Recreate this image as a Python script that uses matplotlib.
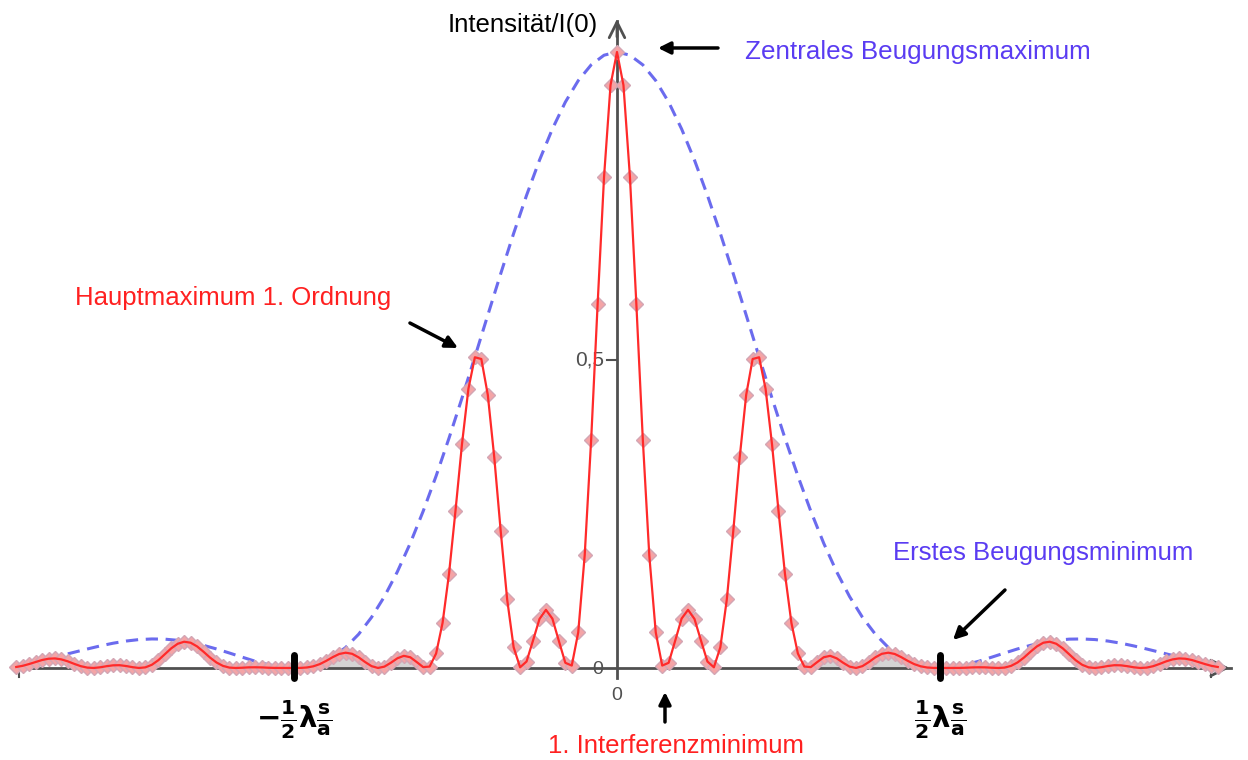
import numpy as np
import matplotlib
matplotlib.use("Agg")
import matplotlib.pyplot as plt

intensity = [
    0.0016, 0.0035, 0.0064, 0.0097, 0.0129, 0.0150, 0.0155, 0.0139, 0.0107, 0.0066,
    0.0029, 0.0006, 0.0000, 0.0011, 0.0029, 0.0043, 0.0045, 0.0032, 0.0013, 0.0000,
    0.0010, 0.0052, 0.0126, 0.0222, 0.0319, 0.0393, 0.0426, 0.0410, 0.0350, 0.0263,
    0.0169, 0.0089, 0.0034, 0.0006, 0.0000, 0.0004, 0.0010, 0.0011, 0.0009, 0.0004,
    0.0001, 0.0000, 0.0000, 0.0000, 0.0001, 0.0008, 0.0027, 0.0063, 0.0116, 0.0176,
    0.0227, 0.0248, 0.0230, 0.0173, 0.0097, 0.0030, 0.0000, 0.0022, 0.0085, 0.0157,
    0.0197, 0.0174, 0.0096, 0.0014, 0.0023, 0.0235, 0.0732, 0.1531, 0.2553, 0.3629,
    0.4533, 0.5044, 0.5016, 0.4434, 0.3422, 0.2221, 0.1112, 0.0336, 0.0011, 0.0105,
    0.0445, 0.0795, 0.0944, 0.0801, 0.0439, 0.0084, 0.0039, 0.0578, 0.1827, 0.3703,
    0.5902, 0.7978, 0.9462,
    1.0000,
    0.9462, 0.7978, 0.5902, 0.3703, 0.1827, 0.0578, 0.0039, 0.0084, 0.0439, 0.0801,
    0.0944, 0.0795, 0.0445, 0.0105, 0.0011, 0.0336, 0.1112, 0.2221, 0.3422, 0.4434,
    0.5016, 0.5044, 0.4533, 0.3629, 0.2553, 0.1531, 0.0732, 0.0235, 0.0023, 0.0014,
    0.0096, 0.0174, 0.0197, 0.0157, 0.0085, 0.0022, 0.0000, 0.0030, 0.0097, 0.0173,
    0.0230, 0.0248, 0.0227, 0.0176, 0.0116, 0.0063, 0.0027, 0.0008, 0.0001, 0.0000,
    0.0000, 0.0000, 0.0001, 0.0004, 0.0009, 0.0011, 0.0010, 0.0004, 0.0000, 0.0006,
    0.0034, 0.0089, 0.0169, 0.0263, 0.0350, 0.0410, 0.0426, 0.0393, 0.0319, 0.0222,
    0.0126, 0.0052, 0.0010, 0.0000, 0.0013, 0.0032, 0.0045, 0.0043, 0.0029, 0.0011,
    0.0000, 0.0006, 0.0029, 0.0066, 0.0107, 0.0139, 0.0155, 0.0150, 0.0129, 0.0097,
    0.0064, 0.0035, 0.0016,
]

# Beugungs-Einhuellende, Abstand 0.04
envelope = [
    0.0153, 0.0203, 0.0256, 0.0308, 0.0358, 0.0402, 0.0437, 0.0461, 0.0471, 0.0468,
    0.0449, 0.0415, 0.0367, 0.0309, 0.0243, 0.0175, 0.0109, 0.0054, 0.0015, 0.0000,
    0.0017, 0.0074, 0.0177, 0.0333, 0.0547, 0.0822, 0.1160, 0.1562, 0.2025, 0.2546,
    0.3117, 0.3732, 0.4380, 0.5050, 0.5728, 0.6401, 0.7054, 0.7673, 0.8243, 0.8751,
    0.9186, 0.9535, 0.9791, 0.9948,
    1.0000,
    0.9948, 0.9791, 0.9535, 0.9186, 0.8751, 0.8243, 0.7673, 0.7054, 0.6401, 0.5728,
    0.5050, 0.4380, 0.3732, 0.3117, 0.2546, 0.2025, 0.1562, 0.1160, 0.0822, 0.0547,
    0.0333, 0.0177, 0.0074, 0.0017, 0.0000, 0.0015, 0.0054, 0.0109, 0.0175, 0.0243,
    0.0309, 0.0367, 0.0415, 0.0449, 0.0468, 0.0471, 0.0461, 0.0437, 0.0402, 0.0358,
    0.0308, 0.0256, 0.0203, 0.0153,
]

x = np.linspace(-1.86, 1.86, len(intensity))
y = np.array(intensity)
xe = np.linspace(-1.76, 1.76, len(envelope))

blue_txt = '#5a3cf2'
red_txt = '#ff2020'
axis_col = '#505050'

plt.rcParams['font.family'] = ['Liberation Sans', 'DejaVu Sans']

fig = plt.figure(figsize=(12.48, 7.6), dpi=100)
ax = fig.add_axes([0, 0, 1, 1])
ax.set_xlim(-1.9102, 1.9536)
ax.set_ylim(-0.1494, 1.0844)
ax.axis('off')

# graue Flaeche unter den kleinen Nebenmaxima
mask = (np.abs(x) >= 0.58) & (np.abs(x) <= 1.0)
ax.fill_between(x, 0, y, where=mask, color='#d4d4d4', zorder=1, lw=0)

# Achsen
ax.plot([-1.864, 1.90], [0, 0], color=axis_col, lw=2, zorder=2)
ax.annotate('', xy=(1.905, 0), xytext=(1.86, 0),
            arrowprops=dict(arrowstyle='->', color=axis_col, lw=2, mutation_scale=28))
ax.plot([0, 0], [-0.016, 1.05], color=axis_col, lw=2, zorder=2)
ax.annotate('', xy=(0, 1.058), xytext=(0, 1.02),
            arrowprops=dict(arrowstyle='->', color=axis_col, lw=2, mutation_scale=28))
ax.plot([-1.85, -1.85], [0, -0.014], color=axis_col, lw=1.5)
ax.plot([1.84, 1.84], [0, -0.014], color=axis_col, lw=1.5)
ax.plot([-0.03, 0], [0.5, 0.5], color=axis_col, lw=1.5)

# Einhuellende
ax.plot(xe, envelope, color='#6b6bee', lw=2.2, dashes=(4, 2.5), zorder=3)

# Intensitaetsverlauf
ax.plot(x, y, ls='none', marker='D', ms=7, mfc='#f4a4a6', mec='#d3a6b4', mew=1, zorder=4)
ax.plot(x, y, color='#ff2a2a', lw=1.6, zorder=5)

# Markierungen bei +-1/2 lambda s/a
for xm in (-1, 1):
    ax.plot([xm, xm], [-0.016, 0.021], color='black', lw=5, solid_capstyle='round', zorder=6)
ax.text(-1, -0.084, r'$\mathbf{-\frac{1}{2}\lambda\frac{s}{a}}$', ha='center', va='center',
        fontsize=21, color='black')
ax.text(1, -0.084, r'$\mathbf{\frac{1}{2}\lambda\frac{s}{a}}$', ha='center', va='center',
        fontsize=21, color='black')

# Beschriftungen
ax.text(-0.0588, 1.044, 'Intensität/I(0)', ha='right', va='center', fontsize=18.5, color='black')
ax.text(-0.04, 0.5, '0,5', ha='right', va='center', fontsize=15, color=axis_col)
ax.text(-0.0588, -0.003, '0', ha='center', va='center', fontsize=14, color=axis_col)
ax.text(0, -0.044, '0', ha='center', va='center', fontsize=14, color=axis_col)

ax.text(0.3963, 1.0, 'Zentrales Beugungsmaximum', ha='left', va='center', fontsize=18.7, color=blue_txt)
ax.text(-1.678, 0.6006, 'Hauptmaximum 1. Ordnung', ha='left', va='center', fontsize=18.5, color=red_txt)
ax.text(0.8545, 0.1867, 'Erstes Beugungsminimum', ha='left', va='center', fontsize=18.5, color=blue_txt)
ax.text(-0.2136, -0.1266, '1. Interferenzminimum', ha='left', va='center', fontsize=18.5, color=red_txt)

# Pfeile
arrow = dict(arrowstyle='-|>', color='black', lw=2.5, mutation_scale=18, shrinkA=0, shrinkB=0)
ax.annotate('', xy=(0.127, 1.0065), xytext=(0.3127, 1.0065), arrowprops=arrow)
ax.annotate('', xy=(-0.4923, 0.5195), xytext=(-0.641, 0.560), arrowprops=arrow)
ax.annotate('', xy=(1.0402, 0.0455), xytext=(1.2012, 0.1266), arrowprops=arrow)
ax.annotate('', xy=(0.1486, -0.039), xytext=(0.1486, -0.0877), arrowprops=arrow)

fig.savefig('out.png', dpi=100)
